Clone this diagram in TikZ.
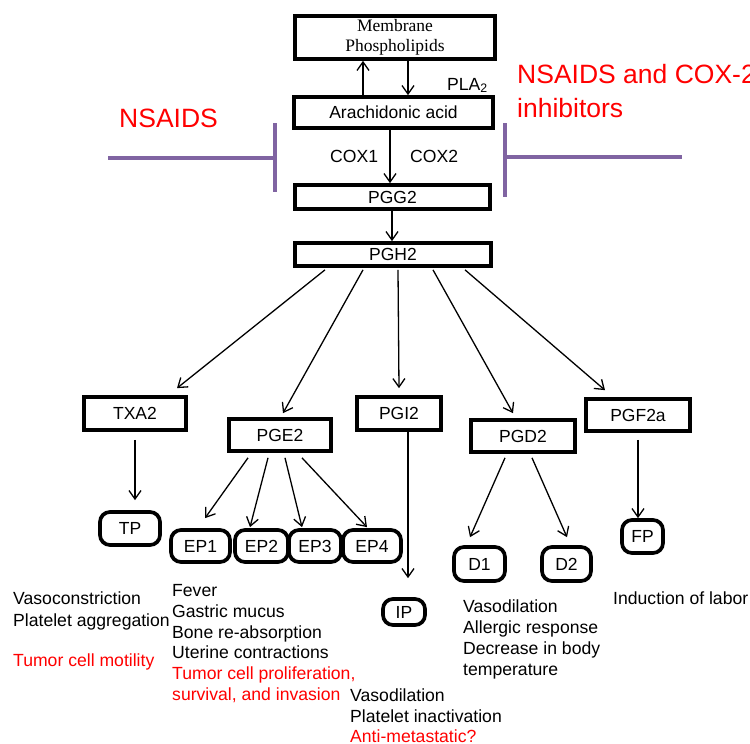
\documentclass[tikz,border=0pt]{standalone}
\usepackage{fontspec}
\setmainfont{Liberation Sans}
\newfontfamily\serifface{Liberation Serif}
\usetikzlibrary{arrows.meta,calc}
\definecolor{nsred}{RGB}{255,0,0}
\definecolor{blockpurple}{RGB}{128,100,162}
\begin{document}
\begin{tikzpicture}[x=1pt,y=-1pt,
  box/.style={draw, line width=3.7pt, inner sep=0pt, fill=white, font=\fontsize{17.5}{21}\selectfont},
  rbox/.style={box, rounded corners=10pt},
  arr/.style={-{Straight Barb[length=8.5pt,width=12pt]}, line width=1.3pt},
  lbl/.style={anchor=base west, inner sep=0pt, font=\fontsize{17.6}{21}\selectfont},
  redtxt/.style={text=nsred},
  bigtxt/.style={font=\fontsize{26.5}{34}\selectfont},
  inhib/.style={draw=blockpurple, line width=4pt}
]
\useasboundingbox (0,0) rectangle (750,744);

% boxes
\node[box, minimum width=200pt, minimum height=43pt, align=center,
      font=\serifface\fontsize{17.5}{20}\selectfont] (mem) at (395,37.5) {Membrane\\Phospholipids};
\node[box, minimum width=199pt, minimum height=31pt] (ara) at (393.5,112.5) {Arachidonic acid};
\node[box, minimum width=195pt, minimum height=24pt] (pgg) at (392.5,197) {PGG2};
\node[box, minimum width=196pt, minimum height=23pt] (pgh) at (393,254.5) {PGH2};
\node[box, minimum width=102pt, minimum height=33pt] (txa) at (135,413.5) {TXA2};
\node[box, minimum width=102pt, minimum height=32pt] (pge) at (280,435) {PGE2};
\node[box, minimum width=84pt, minimum height=33pt] (pgi) at (399,413.5) {PGI2};
\node[box, minimum width=104pt, minimum height=32pt] (pgd) at (523,436) {PGD2};
\node[box, minimum width=104pt, minimum height=32pt] (pgf) at (638,415) {PGF2a};

\node[rbox, minimum width=60pt, minimum height=33pt] (tp) at (130,528.5) {TP};
\node[rbox, minimum width=59pt, minimum height=32pt] (ep1) at (200.5,546) {EP1};
\node[rbox, minimum width=53pt, minimum height=32pt] (ep2) at (261.5,546) {EP2};
\node[rbox, minimum width=52pt, minimum height=32pt] (ep3) at (315,546) {EP3};
\node[rbox, minimum width=58pt, minimum height=32pt] (ep4) at (372,546) {EP4};
\node[rbox, minimum width=42pt, minimum height=26pt] (ip) at (404,612) {IP};
\node[rbox, minimum width=51pt, minimum height=34pt] (d1) at (479.5,564) {D1};
\node[rbox, minimum width=49pt, minimum height=34pt] (d2) at (566.5,564) {D2};
\node[rbox, minimum width=41pt, minimum height=33pt] (fp) at (642.5,536.5) {FP};

% connectors
\draw[arr] ($(ara.north)+(-30.5,0)$) -- ($(mem.south)+(-32,0)$);
\draw[arr] ($(mem.south)+(13,0)$) -- ($(ara.north)+(14.5,0)$);
\draw[arr] ($(ara.south)+(-3.5,0)$) -- ($(pgg.north)+(-2.5,0)$);
\draw[arr] ($(pgg.south)+(-0.5,0)$) -- ($(pgh.north)+(-1,0)$);
\draw[arr] ($(pgh.south)+(-68,2)$) -- ($(txa.north)+(42,-7)$);
\draw[arr] ($(pgh.south)+(-30,2)$) -- ($(pge.north)+(3,-4)$);
\draw[arr] ($(pgh.south)+(5,2)$) -- ($(pgi.north)+(0,-7)$);
\draw[arr] ($(pgh.south)+(40,2)$) -- ($(pgd.north)+(-10,-5)$);
\draw[arr] ($(pgh.south)+(72,2)$) -- ($(pgf.north)+(-33,-7)$);
\draw[arr] ($(txa.south)+(0,8)$) -- ($(tp.north)+(5,-10)$);
\draw[arr] ($(pge.south)+(-32,5)$) -- ($(ep1.north)+(4.5,-10)$);
\draw[arr] ($(pge.south)+(-12,5)$) -- ($(ep2.north)+(-11.5,-1)$);
\draw[arr] ($(pge.south)+(5,5)$) -- ($(ep3.north)+(-13,-1)$);
\draw[arr] ($(pge.south)+(22,5)$) -- ($(ep4.north)+(-5,-1)$);
\draw[arr] ($(pgi.south)+(9,0)$) -- ($(ip.north)+(4,-19)$);
\draw[arr] ($(pgd.south)+(-18,4)$) -- ($(d1.north)+(-9.5,-8)$);
\draw[arr] ($(pgd.south)+(9,4)$) -- ($(d2.north)+(0.5,-8)$);
\draw[arr] ($(pgf.south)+(0,7)$) -- ($(fp.north)+(-4.5,0)$);

% inhibition bars
\draw[inhib] (108,158) -- (275,158);
\draw[inhib] (275,123) -- (275,192);
\draw[inhib] (505,123) -- (505,197);
\draw[inhib] (505,157) -- (682,157);

% labels
\node[lbl] (pla) at (447,90) {PLA\textsubscript{2}};
\node[lbl] (cox1) at (330,162) {COX1};
\node[lbl] (cox2) at (410,162) {COX2};
\node[lbl, redtxt, bigtxt] (nsl) at (119,127) {NSAIDS};
\node[lbl, redtxt, bigtxt] (nsr1) at (517,83) {NSAIDS and COX-2};
\node[lbl, redtxt, bigtxt] (nsr2) at (517,117) {inhibitors};

\node[lbl] (t1) at (13,604) {Vasoconstriction};
\node[lbl] (t2) at (13,626) {Platelet aggregation};
\node[lbl, redtxt] (t3) at (13,666) {Tumor cell motility};

\node[lbl] (e1) at (172,596) {Fever};
\node[lbl] (e2) at (172,617) {Gastric mucus};
\node[lbl] (e3) at (172,638) {Bone re-absorption};
\node[lbl] (e4) at (172,658) {Uterine contractions};
\node[lbl, redtxt] (e5) at (172,679) {Tumor cell proliferation,};
\node[lbl, redtxt] (e6) at (172,700) {survival, and invasion};

\node[lbl] (i1) at (350,701) {Vasodilation};
\node[lbl] (i2) at (350,722) {Platelet inactivation};
\node[lbl, redtxt] (i3) at (350,742) {Anti-metastatic?};

\node[lbl] (g1) at (463,612) {Vasodilation};
\node[lbl] (g2) at (463,633) {Allergic response};
\node[lbl] (g3) at (463,654) {Decrease in body};
\node[lbl] (g4) at (463,675) {temperature};

\node[lbl] (f1) at (613,604) {Induction of labor};
\end{tikzpicture}
\end{document}
